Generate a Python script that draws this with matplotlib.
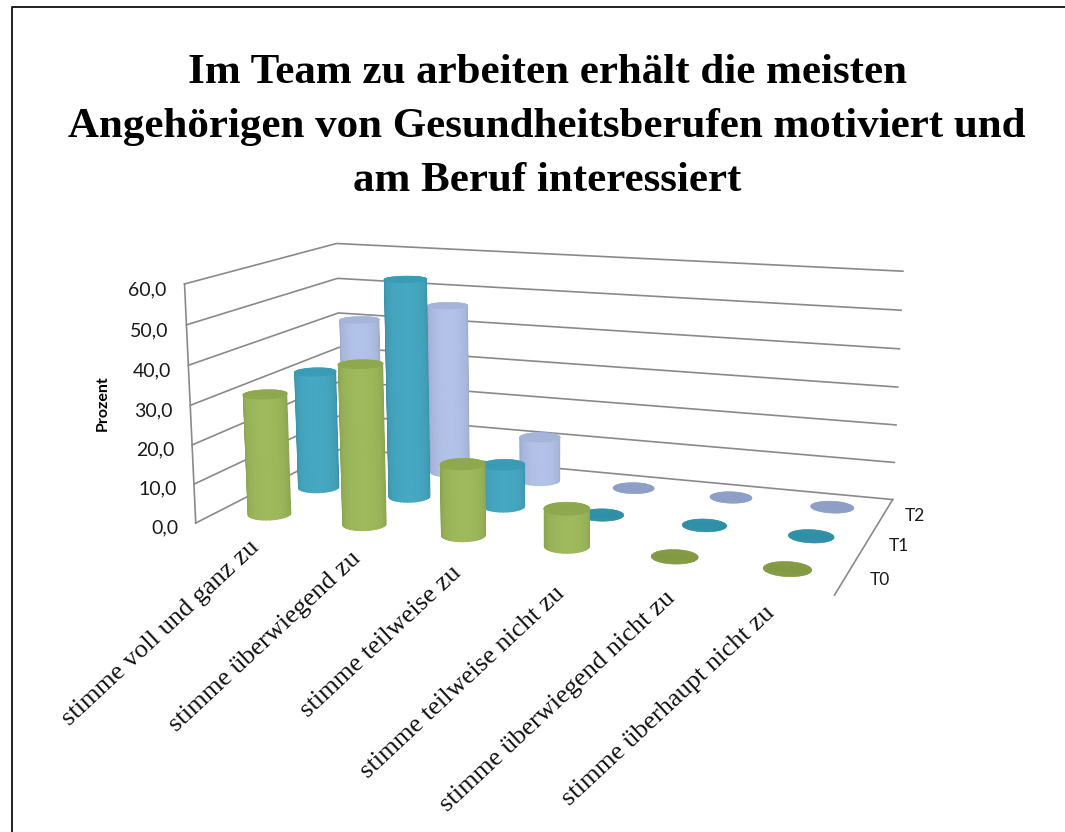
import matplotlib
matplotlib.use('Agg')
import matplotlib.pyplot as plt
import numpy as np
from matplotlib.lines import Line2D
from mpl_toolkits.mplot3d import proj3d

title = 'Im Team zu arbeiten erhält die meisten\nAngehörigen von Gesundheitsberufen motiviert und\nam Beruf interessiert'
categories = ['stimme voll und ganz zu', 'stimme überwiegend zu', 'stimme teilweise zu',
              'stimme teilweise nicht zu', 'stimme überwiegend nicht zu', 'stimme überhaupt nicht zu']
series_names = ['T0', 'T1', 'T2']
t0 = [31.0, 40.5, 17.8, 9.3, 0.3, 0.3]
t1 = [31.5, 57.5, 11.0, 0.3, 0.3, 0.3]
t2 = [41.0, 46.5, 12.0, 0.3, 0.3, 0.3]
y_ticks = [0, 10, 20, 30, 40, 50, 60]
y_tick_labels = ['0,0', '10,0', '20,0', '30,0', '40,0', '50,0', '60,0']

W, H = 1065, 832
side_colors = ['#9cb85a', '#45a6c0', '#b0c0e6']
top_colors = ['#8ea84d', '#3a9bb4', '#a5b5da']
flat_colors = ['#849a42', '#2f8fa6', '#8d9fc6']
grid_color = '#8a8a8a'
label_font = 'Lato'
serif_font = 'Liberation Serif'

fig = plt.figure(figsize=(W/100, H/100), dpi=100, facecolor='white')

# view found by fitting the box corners to the reference
elev, azim, focal, bx, by, bz, cx, cy, size = 12.487, -70.108, 0.434, 7.545, 3.796, 2.837, 542.639, 405.842, 729.249
ax = fig.add_subplot(projection='3d', computed_zorder=False)
ax.set_position([cx/W - size/W/2, 1 - cy/H - size/H/2, size/W, size/H])
ax.view_init(elev, azim)
ax.set_proj_type('persp', focal_length=focal)
ax.set_box_aspect((bx, by, bz))
ax.set_xlim(0, 6)
ax.set_ylim(0, 3)
ax.set_zlim(0, 60)
ax.set_autoscale_on(False)
ax.set_axis_off()

# walls
for z in y_ticks:
    ax.plot([0, 0, 6], [0, 3, 3], [z, z, z], color=grid_color, lw=1.2, zorder=1)
ax.plot([0, 0], [0, 0], [0, 60], color=grid_color, lw=1.2, zorder=1)
ax.plot([6, 6], [3, 0], [0, 0], color=grid_color, lw=1.2, zorder=1)


def cylinder(x0, y0, h, side, top, zo, r=0.205):
    # only the half turned to the camera, the back is never seen
    # wide edges on few facets, thin ones give a moire at this size
    mid = np.radians(azim)
    theta = np.linspace(mid - 1.6, mid + 1.6, 19)
    X = x0 + (r - 0.006)*np.outer(np.ones(2), np.cos(theta))
    Y = y0 + (r - 0.006)*np.outer(np.ones(2), np.sin(theta))
    Z = np.outer([0, h], np.ones(19))
    lit = np.clip(np.cos(theta - mid), 0, 1)
    colors = np.ones((2, 19, 4))
    colors[:, :, :3] = np.clip(np.outer(0.84 + 0.17*lit**0.7, matplotlib.colors.to_rgb(side)), 0, 1)
    if h > 1:
        ax.plot_surface(X, Y, Z, facecolors=colors, rcount=2, ccount=19, shade=False,
                        linewidth=1.0, zorder=zo)
    ring = np.linspace(0, 2*np.pi, 61)
    Xt = x0 + r*np.outer([0, 1], np.cos(ring))
    Yt = y0 + r*np.outer([0, 1], np.sin(ring))
    Zt = np.full_like(Xt, h)
    ax.plot_surface(Xt, Yt, Zt, color=top, rcount=2, ccount=61, shade=False,
                    linewidth=0.4, edgecolor=top, zorder=zo + 0.5)


# back row first, so the front row covers it
zo = 2
for row, values in reversed(list(enumerate([t0, t1, t2]))):
    for col, v in enumerate(values):
        cap = top_colors[row] if v > 1 else flat_colors[row]
        cylinder(col + 0.5, row + 0.5, v, side_colors[row], cap, zo)
        zo += 1


def to_fig(x, y, z):
    # data point to figure fraction, for labels set on the figure
    ax.apply_aspect()
    px, py, _ = proj3d.proj_transform(x, y, z, ax.get_proj())
    return fig.transFigure.inverted().transform(ax.transData.transform((px, py)))


for z, s in zip(y_ticks, y_tick_labels):
    fx, fy = to_fig(-0.19, 0, z - 1.8)
    fig.text(fx, fy, s, ha='right', va='center', fontsize=14, family=label_font, color='#1a1a1a')

for row, s in enumerate(series_names):
    fx, fy = to_fig(6.29, row + 0.5, 0)
    fig.text(fx, fy, s, ha='center', va='center', fontsize=12.5, family=label_font, color='#1a1a1a')

fig.text(103/W, 1 - 403/H, 'Prozent', rotation=90, ha='center', va='center', fontsize=11.5,
         fontweight='bold', family=label_font, color='black')

# category labels, end of the text under each column
label_ends = [(248, 536), (350, 547), (450, 562), (554, 582), (664, 587), (764, 602)]
for s, (px, py) in zip(categories, label_ends):
    fig.text(px/W, 1 - py/H, s, rotation=43, rotation_mode='anchor', ha='right', va='top',
             fontsize=19, family=serif_font, color='#111111')

fig.text(547/W, 1 - 127/H, title, ha='center', va='center', fontsize=31, fontweight='bold',
         family=serif_font, linespacing=1.54, color='black')

# slide frame, only top and left show
fig.add_artist(Line2D([12/W, 12/W, 1], [0, 1 - 7/H, 1 - 7/H], color='#222222', lw=1.4))

fig.savefig('out.png', dpi=100)
